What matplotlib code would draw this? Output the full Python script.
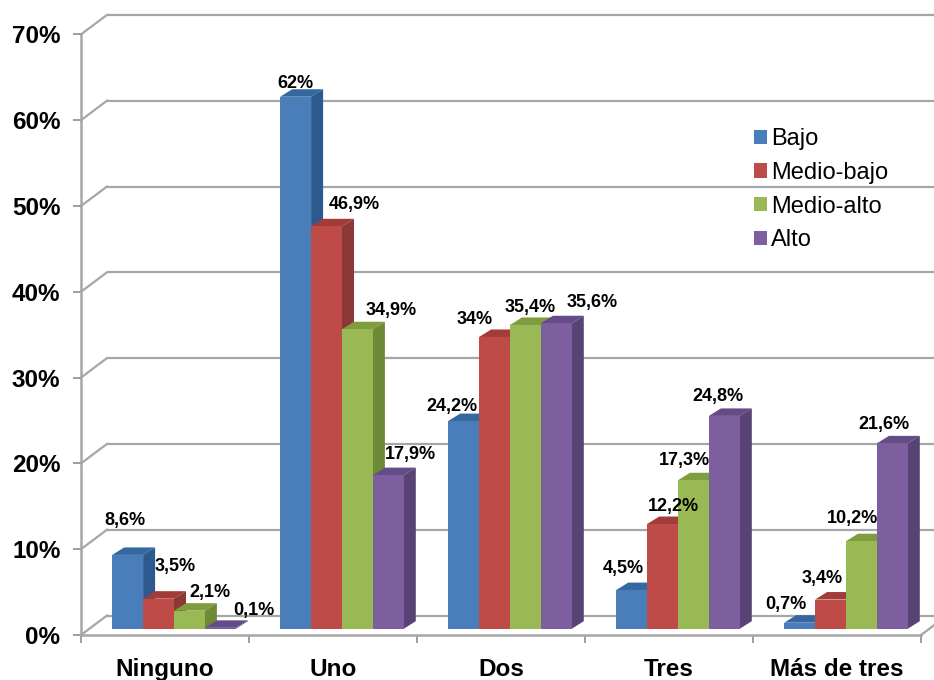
import numpy as np
import matplotlib
matplotlib.use('Agg')
import matplotlib.pyplot as plt
from matplotlib.patches import Polygon, Patch
from matplotlib.ticker import PercentFormatter

plt.rcParams['font.family'] = ['Liberation Sans', 'DejaVu Sans']

categories = ['Ninguno', 'Uno', 'Dos', 'Tres', 'Más de tres']
series_names = ['Bajo', 'Medio-bajo', 'Medio-alto', 'Alto']
bajo = [8.6, 62, 24.2, 4.5, 0.7]
medio_bajo = [3.5, 46.9, 34, 12.2, 3.4]
medio_alto = [2.1, 34.9, 35.4, 17.3, 10.2]
alto = [0.1, 17.9, 35.6, 24.8, 21.6]
series = [bajo, medio_bajo, medio_alto, alto]
labels = [['8,6%', '62%', '24,2%', '4,5%', '0,7%'],
          ['3,5%', '46,9%', '34%', '12,2%', '3,4%'],
          ['2,1%', '34,9%', '35,4%', '17,3%', '10,2%'],
          ['0,1%', '17,9%', '35,6%', '24,8%', '21,6%']]

# label centres in pixels, same order as labels
label_px = [[(125, 521), (295, 83), (452, 407), (623, 569), (786, 605)],
            [(175, 567), (354, 205), (475, 319), (673, 506), (822, 578)],
            [(210, 592), (391, 311), (530, 308), (684, 461), (852, 518)],
            [(254, 611), (410, 455), (592, 303), (718, 396), (884, 424)]]

front = ['#4a7ebb', '#be4b48', '#98b954', '#7d5fa0']
side = ['#2c5a8f', '#8c3836', '#6f8a36', '#574374']
top = ['#34689f', '#a33c39', '#7f9c3f', '#644c88']
grid_col = '#a6a6a6'

W, H = 934, 680
xunit, yunit = 168.0, 8.58   # px per category, px per percent
x0_px, y0_px = 165.0, 635.0  # first category centre, 0% line
depth_x, depth_y = 26 / xunit, 19.5 / yunit
bar_w = 30.9 / xunit
bar_dx, bar_dy = 12 / xunit, 7.5 / yunit
bar_base = 6.3 / yunit
bar_shift = 9 / xunit

fig = plt.figure(figsize=(W / 100, H / 100), dpi=100)
ax = fig.add_axes([0, 0, 1, 1])
ax.set_xlim(-x0_px / xunit, (W - x0_px) / xunit)
ax.set_ylim((y0_px - H) / yunit, y0_px / yunit)
ax.patch.set_visible(False)

left_x = -0.5
right_x = len(categories) - 0.5

# back wall and floor
for y in range(0, 80, 10):
    ax.plot([left_x + depth_x, ax.get_xlim()[1]], [y + depth_y, y + depth_y],
            color=grid_col, lw=1.6, zorder=1, solid_capstyle='butt')
    ax.plot([left_x, left_x + depth_x], [y, y + depth_y], color=grid_col, lw=1.6, zorder=1)
ax.plot([right_x, right_x + depth_x], [0, depth_y], color=grid_col, lw=1.6, zorder=1)

# bars: top and side faces first, then the front
for s, vals in enumerate(series):
    xs = np.arange(len(categories)) + bar_shift + (s - 1.5) * bar_w
    ax.bar(xs, vals, width=bar_w, bottom=bar_base, color=front[s], zorder=3.5 + s, linewidth=0)
    for x, v in zip(xs, vals):
        xl, xr = x - bar_w / 2, x + bar_w / 2
        yb, yt = bar_base, bar_base + v
        ax.add_patch(Polygon([(xl, yt), (xr, yt), (xr + bar_dx, yt + bar_dy), (xl + bar_dx, yt + bar_dy)],
                             closed=True, facecolor=top[s], edgecolor='none', zorder=3 + s))
        ax.add_patch(Polygon([(xr, yb), (xr, yt), (xr + bar_dx, yt + bar_dy), (xr + bar_dx, yb + bar_dy)],
                             closed=True, facecolor=side[s], edgecolor='none', zorder=3 + s))

# axes
for name in ['top', 'right']:
    ax.spines[name].set_visible(False)
ax.spines['left'].set_position(('data', left_x))
ax.spines['bottom'].set_position(('data', 0))
ax.spines['left'].set_bounds(0, 70)
ax.spines['bottom'].set_bounds(left_x, right_x)
for name in ['left', 'bottom']:
    ax.spines[name].set_color(grid_col)
    ax.spines[name].set_linewidth(1.8)
    ax.spines[name].set_zorder(2)

ax.set_yticks(range(0, 80, 10))
ax.yaxis.set_major_formatter(PercentFormatter(decimals=0))
ax.set_xticks(range(len(categories)))
ax.set_xticklabels(categories)
ax.set_xticks(np.arange(len(categories) + 1) - 0.5, minor=True)
ax.tick_params(axis='y', length=5.8, width=1.2, color='#8c8c8c', pad=9, labelsize=17.5)
ax.tick_params(axis='x', which='major', length=0, pad=16.5, labelsize=17.5)
ax.tick_params(axis='x', which='minor', length=6, width=1.2, color='#8c8c8c')
for t in ax.get_xticklabels() + ax.get_yticklabels():
    t.set_fontweight('bold')

# value labels
for names, places in zip(labels, label_px):
    for txt, (px, py) in zip(names, places):
        fig.text(px / W, 1 - py / H, txt, ha='center', va='center', fontsize=13,
                 fontweight='bold', color='black', zorder=20)

handles = [Patch(facecolor=c, label=n) for c, n in zip(front, series_names)]
leg = ax.legend(handles=handles, loc='upper left', bbox_to_anchor=(754 / W, 1 - 128 / H), frameon=False,
                fontsize=17, handlelength=0.55, handleheight=0.55, handletextpad=0.17,
                labelspacing=0.5, borderpad=0, borderaxespad=0)
leg.set_zorder(15)

fig.savefig('out.png', dpi=100)
